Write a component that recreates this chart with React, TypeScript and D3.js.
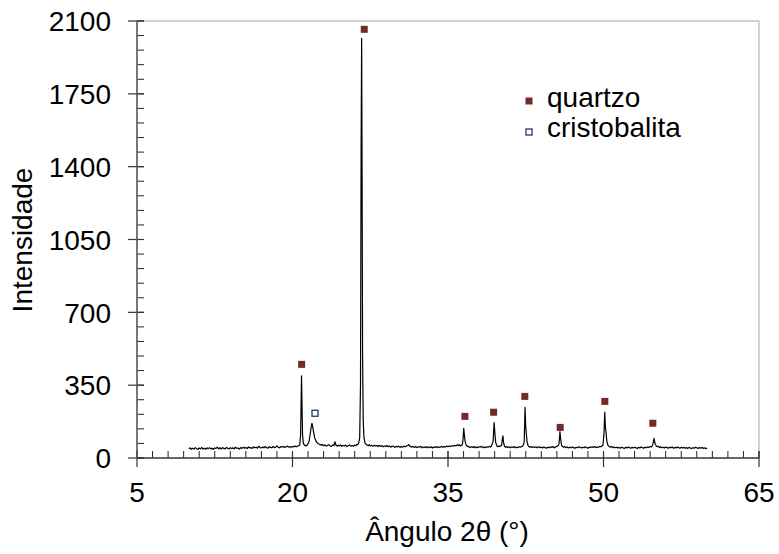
import React from "react";
import * as d3 from "d3";

// XRD pattern: [2θ, intensity]
const pattern: [number, number][] = [
  [10.0, 44], [10.125, 49], [10.25, 42], [10.375, 47], [10.5, 43], [10.625, 50], [10.75, 45], [10.875, 41],
  [11.0, 48], [11.125, 44], [11.25, 51], [11.375, 43], [11.5, 47], [11.625, 42], [11.75, 49], [11.875, 45],
  [12.0, 50], [12.125, 44], [12.25, 47], [12.375, 41], [12.5, 48], [12.625, 46], [12.75, 52], [12.875, 44],
  [13.0, 49], [13.125, 43], [13.25, 50], [13.375, 46], [13.5, 44], [13.625, 51], [13.75, 47], [13.875, 43],
  [14.0, 50], [14.125, 45], [14.25, 49], [14.375, 44], [14.5, 52], [14.625, 46], [14.75, 48], [14.875, 43],
  [15.0, 50], [15.125, 46], [15.25, 52], [15.375, 47], [15.5, 51], [15.625, 45], [15.75, 53], [15.875, 48],
  [16.0, 50], [16.125, 46], [16.25, 54], [16.375, 49], [16.5, 52], [16.625, 47], [16.75, 57], [16.875, 50],
  [17.0, 48], [17.125, 53], [17.25, 49], [17.375, 55], [17.5, 50], [17.625, 47], [17.75, 54], [17.875, 51],
  [18.0, 49], [18.125, 55], [18.25, 50], [18.375, 53], [18.5, 58], [18.625, 51], [18.75, 49], [18.875, 55],
  [19.0, 52], [19.125, 56], [19.25, 50], [19.375, 54], [19.5, 57], [19.625, 52], [19.75, 55], [19.875, 51],
  [20.0, 56], [20.125, 53], [20.25, 58], [20.375, 54], [20.5, 57], [20.625, 60],
  [20.7, 62], [20.78, 110], [20.84, 300], [20.87, 395], [20.91, 280], [20.97, 110], [21.05, 70], [21.15, 62],
  [21.3, 58], [21.45, 64], [21.6, 80], [21.72, 120], [21.82, 155], [21.88, 167], [21.95, 150], [22.05, 120],
  [22.15, 95], [22.3, 78], [22.45, 70], [22.6, 66], [22.75, 62], [22.875, 65], [23.0, 59], [23.125, 63],
  [23.25, 57], [23.375, 61], [23.5, 64], [23.625, 58], [23.75, 56], [23.875, 62], [24.0, 60], [24.1, 78],
  [24.2, 61], [24.3, 57], [24.4, 62], [24.5, 58], [24.625, 63], [24.75, 56], [24.875, 60], [25.0, 58],
  [25.125, 62], [25.25, 55], [25.375, 59], [25.5, 63], [25.625, 57], [25.75, 60], [25.875, 56], [26.0, 62],
  [26.125, 59], [26.2, 66], [26.3, 64], [26.38, 72], [26.48, 95], [26.56, 350], [26.62, 1500], [26.67, 2017],
  [26.71, 1400], [26.76, 500], [26.82, 180], [26.9, 95], [27.0, 72], [27.1, 66], [27.2, 62], [27.3, 59],
  [27.4, 64], [27.5, 58], [27.625, 61], [27.75, 56], [27.875, 62], [28.0, 57], [28.125, 60], [28.25, 55],
  [28.375, 61], [28.5, 56], [28.625, 59], [28.75, 54], [28.875, 58], [29.0, 55], [29.125, 60], [29.25, 54],
  [29.375, 57], [29.5, 52], [29.625, 58], [29.75, 55], [29.875, 51], [30.0, 56], [30.125, 53], [30.25, 57],
  [30.375, 51], [30.5, 55], [30.625, 52], [30.75, 57], [30.875, 54], [31.0, 58], [31.125, 60], [31.2, 64],
  [31.3, 59], [31.4, 55], [31.5, 52], [31.625, 56], [31.75, 51], [31.875, 55], [32.0, 50], [32.125, 54],
  [32.25, 52], [32.375, 56], [32.5, 49], [32.625, 53], [32.75, 51], [32.875, 55], [33.0, 49], [33.125, 53],
  [33.25, 50], [33.375, 54], [33.5, 48], [33.625, 53], [33.75, 51], [33.875, 55], [34.0, 50], [34.125, 53],
  [34.25, 51], [34.375, 56], [34.5, 52], [34.625, 55], [34.75, 53], [34.875, 57], [35.0, 54], [35.125, 58],
  [35.25, 55], [35.375, 59], [35.5, 57], [35.625, 61], [35.75, 58], [35.875, 63], [36.0, 60], [36.1, 64],
  [36.2, 58], [36.3, 61], [36.38, 63], [36.45, 90], [36.52, 143], [36.58, 110], [36.65, 80], [36.75, 62],
  [36.85, 57], [36.95, 54], [37.0, 56], [37.125, 50], [37.25, 54], [37.375, 51], [37.5, 55], [37.625, 49],
  [37.75, 53], [37.875, 50], [38.0, 54], [38.125, 52], [38.25, 56], [38.375, 50], [38.5, 53], [38.625, 49],
  [38.75, 54], [38.875, 52], [39.0, 56], [39.1, 53], [39.2, 58], [39.35, 80], [39.45, 170], [39.52, 120],
  [39.6, 75], [39.7, 60], [39.8, 54], [39.9, 57], [40.0, 55], [40.1, 59], [40.18, 62], [40.25, 95],
  [40.3, 106], [40.36, 75], [40.45, 56], [40.55, 52], [40.625, 55], [40.75, 51], [40.875, 54], [41.0, 49],
  [41.125, 53], [41.25, 51], [41.375, 55], [41.5, 49], [41.625, 52], [41.75, 50], [41.875, 54], [42.0, 52],
  [42.125, 56], [42.22, 58], [42.35, 75], [42.43, 244], [42.5, 150], [42.55, 120], [42.62, 80], [42.72, 60],
  [42.8, 55], [42.9, 52], [43.0, 55], [43.125, 50], [43.25, 54], [43.375, 51], [43.5, 53], [43.625, 49],
  [43.75, 54], [43.875, 50], [44.0, 52], [44.125, 48], [44.25, 53], [44.375, 50], [44.5, 47], [44.625, 52],
  [44.75, 49], [44.875, 54], [45.0, 51], [45.125, 55], [45.25, 49], [45.375, 53], [45.5, 56], [45.6, 58],
  [45.7, 65], [45.75, 90], [45.8, 127], [45.86, 95], [45.95, 62], [46.05, 55], [46.15, 52], [46.25, 55],
  [46.375, 50], [46.5, 53], [46.625, 48], [46.75, 52], [46.875, 49], [47.0, 53], [47.125, 50], [47.25, 47],
  [47.375, 52], [47.5, 49], [47.625, 54], [47.75, 51], [47.875, 48], [48.0, 52], [48.125, 49], [48.25, 54],
  [48.375, 50], [48.5, 47], [48.625, 52], [48.75, 50], [48.875, 54], [49.0, 51], [49.125, 55], [49.25, 50],
  [49.375, 53], [49.5, 51], [49.625, 56], [49.75, 54], [49.85, 58], [49.95, 62], [50.05, 120], [50.12, 220],
  [50.18, 150], [50.25, 120], [50.32, 80], [50.42, 62], [50.5, 57], [50.6, 53], [50.75, 55], [50.875, 50],
  [51.0, 53], [51.125, 49], [51.25, 52], [51.375, 48], [51.5, 51], [51.625, 47], [51.75, 52], [51.875, 49],
  [52.0, 46], [52.125, 51], [52.25, 48], [52.375, 53], [52.5, 50], [52.625, 47], [52.75, 51], [52.875, 48],
  [53.0, 52], [53.125, 49], [53.25, 46], [53.375, 51], [53.5, 48], [53.625, 53], [53.75, 50], [53.875, 47],
  [54.0, 52], [54.125, 49], [54.25, 53], [54.375, 51], [54.5, 55], [54.6, 53], [54.7, 58], [54.78, 70],
  [54.82, 80], [54.87, 95], [54.93, 78], [55.0, 65], [55.1, 58], [55.2, 54], [55.3, 56], [55.4, 51],
  [55.5, 54], [55.625, 49], [55.75, 52], [55.875, 48], [56.0, 53], [56.125, 50], [56.25, 47], [56.375, 52],
  [56.5, 49], [56.625, 53], [56.75, 47], [56.875, 51], [57.0, 48], [57.125, 53], [57.25, 50], [57.375, 47],
  [57.5, 52], [57.625, 48], [57.75, 51], [57.875, 47], [58.0, 50], [58.125, 46], [58.25, 51], [58.375, 48],
  [58.5, 45], [58.625, 50], [58.75, 47], [58.875, 52], [59.0, 49], [59.125, 46], [59.25, 50], [59.375, 47],
  [59.5, 51], [59.625, 46], [59.75, 49], [59.875, 45], [60.0, 48],
];

// Phase markers
const quartzAngles = [20.88, 26.92, 36.63, 39.4, 42.41, 45.82, 50.13, 54.76];
const quartzLevels = [450, 2060, 200, 220, 296, 147, 272, 167];
const cristobaliteAngles = [22.17];
const cristobaliteLevels = [215];

const xTicks = [5, 20, 35, 50, 65];
const yTicks = [0, 350, 700, 1050, 1400, 1750, 2100];

const legendItems = ["quartzo", "cristobalita"];

export default function App() {
  const left = 137, right = 759, top = 21, bottom = 458;
  const x = d3.scaleLinear().domain([5, 65]).range([left, right]);
  const y = d3.scaleLinear().domain([0, 2100]).range([bottom, top]);
  const line = d3.line<[number, number]>().x((d) => x(d[0])).y((d) => y(d[1]));

  const xMinor = d3.range(5, 65.001, 1.5);
  const yMinor = d3.range(0, 2100.001, 70);
  const font = "Arial, 'Liberation Sans', sans-serif";
  const qColor = "#722a2a";
  const cColor = "#1f3b64";
  const ms = 7;
  const fs = 28;

  return (
    <svg width={779} height={554} style={{ position: "absolute", left: 0, top: 0, background: "#fff" }}>
      {/* frame top and right */}
      <line x1={left} x2={right} y1={top} y2={top} stroke="#a6a6a6" strokeWidth={1} />
      <line x1={right} x2={right} y1={top} y2={bottom} stroke="#a6a6a6" strokeWidth={1} />

      {/* minor ticks */}
      {xMinor.map((v, i) => (
        <line key={"xm" + i} x1={x(v)} x2={x(v)} y1={bottom} y2={bottom - 7} stroke="#222" strokeWidth={1} />
      ))}
      {yMinor.map((v, i) => (
        <line key={"ym" + i} x1={left} x2={left + 7} y1={y(v)} y2={y(v)} stroke="#222" strokeWidth={1} />
      ))}
      {/* major ticks */}
      {xTicks.map((v) => (
        <line key={"xM" + v} x1={x(v)} x2={x(v)} y1={bottom - 7} y2={bottom + 9} stroke="#333" strokeWidth={1.2} />
      ))}
      {yTicks.map((v) => (
        <line key={"yM" + v} x1={left - 9} x2={left + 7} y1={y(v)} y2={y(v)} stroke="#333" strokeWidth={1.2} />
      ))}

      {/* axes */}
      <line x1={left} x2={right} y1={bottom} y2={bottom} stroke="#333" strokeWidth={1.6} />
      <line x1={left} x2={left} y1={top} y2={bottom} stroke="#555" strokeWidth={1.6} />

      {/* pattern */}
      <path d={line(pattern) || ""} fill="none" stroke="#000" strokeWidth={1.2} strokeLinejoin="round" />

      {/* markers */}
      {quartzAngles.map((a, i) => (
        <rect key={"q" + i} x={x(a) - ms / 2} y={y(quartzLevels[i]) - ms / 2} width={ms} height={ms} fill={qColor} />
      ))}
      {cristobaliteAngles.map((a, i) => (
        <rect key={"c" + i} x={x(a) - 3} y={y(cristobaliteLevels[i]) - 3} width={6} height={6} fill="#fff" stroke={cColor} strokeWidth={1.3} />
      ))}

      {/* tick labels */}
      {xTicks.map((v) => (
        <text key={"xl" + v} x={x(v)} y={502} textAnchor="middle" fontFamily={font} fontSize={fs} fill="#000">{v}</text>
      ))}
      {yTicks.map((v) => (
        <text key={"yl" + v} x={111} y={y(v) + 10.3} textAnchor="end" fontFamily={font} fontSize={fs} fill="#000">{v}</text>
      ))}

      {/* axis titles */}
      <text x={447} y={541} textAnchor="middle" fontFamily={font} fontSize={fs} fill="#000">Ângulo 2θ (°)</text>
      <text transform={`translate(32, 240) rotate(-90)`} textAnchor="middle" fontFamily={font} fontSize={fs} fill="#000">Intensidade</text>

      {/* legend */}
      <rect x={529 - 3.5} y={101 - 3.5} width={7} height={7} fill={qColor} />
      <text x={547} y={106.5} fontFamily={font} fontSize={fs} fill="#000">{legendItems[0]}</text>
      <rect x={529 - 3} y={132 - 3} width={6} height={6} fill="#fff" stroke={cColor} strokeWidth={1.3} />
      <text x={547} y={136.5} fontFamily={font} fontSize={fs} fill="#000">{legendItems[1]}</text>
    </svg>
  );
}
